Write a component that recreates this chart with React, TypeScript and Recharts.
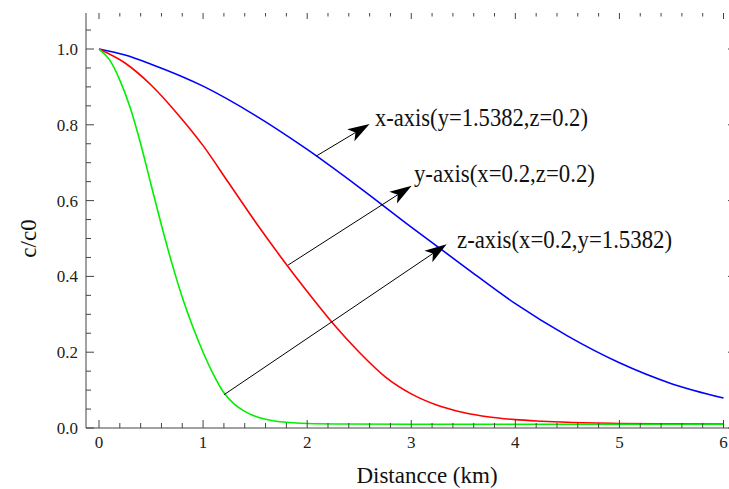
import React from "react";
import { LineChart, Line, XAxis, YAxis, ReferenceLine, ReferenceDot } from "recharts";

// readings: distance (km) -> c/c0
const xAxisCurve = [
  { x: 0, v: 1.0 }, { x: 0.25, v: 0.984 }, { x: 0.5, v: 0.96 }, { x: 1.0, v: 0.902 },
  { x: 1.5, v: 0.825 }, { x: 2.0, v: 0.735 }, { x: 2.5, v: 0.635 }, { x: 3.0, v: 0.53 },
  { x: 3.5, v: 0.428 }, { x: 4.0, v: 0.328 }, { x: 4.5, v: 0.243 }, { x: 5.0, v: 0.172 },
  { x: 5.5, v: 0.117 }, { x: 6.0, v: 0.079 },
];

const yAxisCurve = [
  { x: 0, v: 1.0 }, { x: 0.25, v: 0.963 }, { x: 0.5, v: 0.905 }, { x: 0.75, v: 0.83 },
  { x: 1.0, v: 0.745 }, { x: 1.25, v: 0.645 }, { x: 1.5, v: 0.545 }, { x: 1.75, v: 0.45 },
  { x: 2.0, v: 0.36 }, { x: 2.25, v: 0.275 }, { x: 2.5, v: 0.2 }, { x: 2.75, v: 0.135 },
  { x: 3.0, v: 0.09 }, { x: 3.25, v: 0.06 }, { x: 3.5, v: 0.041 }, { x: 3.75, v: 0.029 },
  { x: 4.0, v: 0.022 }, { x: 4.25, v: 0.018 }, { x: 4.5, v: 0.015 }, { x: 5.0, v: 0.012 },
  { x: 5.5, v: 0.011 }, { x: 6.0, v: 0.0105 },
];

const zAxisCurve = [
  { x: 0, v: 1.0 }, { x: 0.1, v: 0.972 }, { x: 0.2, v: 0.918 }, { x: 0.3, v: 0.845 },
  { x: 0.4, v: 0.75 }, { x: 0.5, v: 0.642 }, { x: 0.6, v: 0.535 }, { x: 0.7, v: 0.435 },
  { x: 0.8, v: 0.345 }, { x: 0.9, v: 0.268 }, { x: 1.0, v: 0.2 }, { x: 1.1, v: 0.141 },
  { x: 1.2, v: 0.093 }, { x: 1.3, v: 0.063 }, { x: 1.4, v: 0.044 }, { x: 1.5, v: 0.031 },
  { x: 1.6, v: 0.023 }, { x: 1.7, v: 0.018 }, { x: 1.8, v: 0.015 }, { x: 2.0, v: 0.012 },
  { x: 2.4, v: 0.0105 }, { x: 3.0, v: 0.01 }, { x: 4.0, v: 0.01 }, { x: 5.0, v: 0.01 },
  { x: 6.0, v: 0.01 },
];

const xTicks = [
  0, 0.2, 0.4, 0.6, 0.8, 1, 1.2, 1.4, 1.6, 1.8, 2, 2.2, 2.4, 2.6, 2.8, 3, 3.2, 3.4, 3.6, 3.8,
  4, 4.2, 4.4, 4.6, 4.8, 5, 5.2, 5.4, 5.6, 5.8, 6,
];
const yTicks = [
  0, 0.05, 0.1, 0.15, 0.2, 0.25, 0.3, 0.35, 0.4, 0.45, 0.5, 0.55, 0.6, 0.65, 0.7, 0.75, 0.8,
  0.85, 0.9, 0.95, 1.0, 1.05,
];

// arrow from a curve to its label
const annotations = [
  { label: "x-axis(y=1.5382,z=0.2)", from: [2.09, 0.718], to: [2.6, 0.802], text: [2.651, 0.797], len: 213 },
  { label: "y-axis(x=0.2,z=0.2)", from: [1.817, 0.43], to: [3.004, 0.639], text: [3.026, 0.649], len: 181 },
  { label: "z-axis(x=0.2,y=1.5382)", from: [1.202, 0.088], to: [3.34, 0.485], text: [3.44, 0.475], len: 215 },
];

const FONT = '"Liberation Serif"';
const AXIS = "#444";
const textStyle = { fontFamily: FONT };

const isMajor = (v: number, step: number) => Math.abs(v / step - Math.round(v / step)) < 1e-6;

function BottomTick({ x, y, payload }: any) {
  const v = payload.value;
  const major = isMajor(v, 1);
  return (
    <g>
      <line x1={x} x2={x} y1={y} y2={y - (major ? 8 : 5)} stroke={AXIS} />
      {major && (
        <text x={x} y={y + 20} textAnchor="middle" style={textStyle} fontSize={17} fill="#222">
          {Math.round(v)}
        </text>
      )}
    </g>
  );
}

function LeftTick({ x, y, payload }: any) {
  const v = payload.value;
  const major = isMajor(v, 0.2);
  return (
    <g>
      <line x1={x} x2={x + (major ? 8 : 5)} y1={y} y2={y} stroke={AXIS} />
      {major && (
        <text x={x - 8} y={y} dy="0.35em" textAnchor="end" style={textStyle} fontSize={17} fill="#222">
          {v.toFixed(1)}
        </text>
      )}
    </g>
  );
}

// frame ticks on the top edge (no axis line there)
function TopTick({ x1, y1, y2, major }: any) {
  const top = Math.min(y1, y2);
  return <line x1={x1} x2={x1} y1={top} y2={top + (major ? 6 : 3.5)} stroke={AXIS} />;
}

// frame ticks on the right edge (mostly outside the picture)
function RightTick({ x1, x2, y1, major }: any) {
  const right = Math.max(x1, x2);
  return <line x1={right} x2={right - (major ? 8 : 5)} y1={y1} y2={y1} stroke={AXIS} />;
}

function Arrow({ x1, y1, x2, y2 }: any) {
  const dx = x2 - x1;
  const dy = y2 - y1;
  const d = Math.sqrt(dx * dx + dy * dy);
  const ux = dx / d;
  const uy = dy / d;
  const hl = 22;
  const hw = 7;
  const bx = x2 - ux * hl;
  const by = y2 - uy * hl;
  const nx = x2 - ux * hl * 0.75;
  const ny = y2 - uy * hl * 0.75;
  const pts = `${x2},${y2} ${bx - uy * hw},${by + ux * hw} ${nx},${ny} ${bx + uy * hw},${by - ux * hw}`;
  return (
    <g>
      <line x1={x1} y1={y1} x2={nx} y2={ny} stroke="#000" strokeWidth={1} />
      <polygon points={pts} fill="#000" />
    </g>
  );
}

export default function App() {
  return (
    <div style={{ position: "absolute", left: 0, top: 0, background: "#fff" }}>
      <LineChart width={729} height={489} margin={{ top: 13, right: -7, bottom: 0, left: 0 }}>
        <XAxis
          type="number"
          dataKey="x"
          domain={[-0.125, 6.12]}
          allowDataOverflow
          ticks={xTicks}
          interval={0}
          height={61}
          tickSize={0}
          tickMargin={0}
          tickLine={false}
          stroke={AXIS}
          tick={<BottomTick />}
          label={({ viewBox }: any) => (
            <text x={viewBox.x + viewBox.width / 2 + 16} y={viewBox.y + 55} textAnchor="middle" style={textStyle} fontSize={23} fill="#111">
              Distancce (km)
            </text>
          )}
        />
        <YAxis
          type="number"
          domain={[0, 1.095]}
          allowDataOverflow
          ticks={yTicks}
          interval={0}
          width={86}
          tickSize={0}
          tickMargin={0}
          tickLine={false}
          stroke={AXIS}
          tick={<LeftTick />}
          label={({ viewBox }: any) => {
            const cy = viewBox.y + viewBox.height / 2 + 18;
            return (
              <text x={36} y={cy} transform={`rotate(-90 36 ${cy})`} textAnchor="middle" style={textStyle} fontSize={23} fill="#111">
                c/c0
              </text>
            );
          }}
        />
        {xTicks.map((t) => (
          <ReferenceLine key={"top" + t} x={t} shape={<TopTick major={isMajor(t, 1)} />} />
        ))}
        {yTicks.map((t) => (
          <ReferenceLine key={"right" + t} y={t} shape={<RightTick major={isMajor(t, 0.2)} />} />
        ))}
        <Line data={xAxisCurve} dataKey="v" type="monotone" stroke="#0000ff" strokeWidth={1.6} dot={false} isAnimationActive={false} />
        <Line data={yAxisCurve} dataKey="v" type="monotone" stroke="#ff0000" strokeWidth={1.6} dot={false} isAnimationActive={false} />
        <Line data={zAxisCurve} dataKey="v" type="monotone" stroke="#00f000" strokeWidth={1.6} dot={false} isAnimationActive={false} />
        {annotations.map((a) => (
          <ReferenceLine
            key={a.label + "-arrow"}
            segment={[{ x: a.from[0], y: a.from[1] }, { x: a.to[0], y: a.to[1] }]}
            shape={<Arrow />}
            ifOverflow="visible"
          />
        ))}
        {annotations.map((a) => (
          <ReferenceDot
            key={a.label}
            x={a.text[0]}
            y={a.text[1]}
            r={0}
            ifOverflow="visible"
            shape={({ cx, cy }: any) => (
              <text x={cx} y={cy} style={textStyle} fontSize={25} fill="#111" textLength={a.len} lengthAdjust="spacingAndGlyphs">
                {a.label}
              </text>
            )}
          />
        ))}
      </LineChart>
    </div>
  );
}
